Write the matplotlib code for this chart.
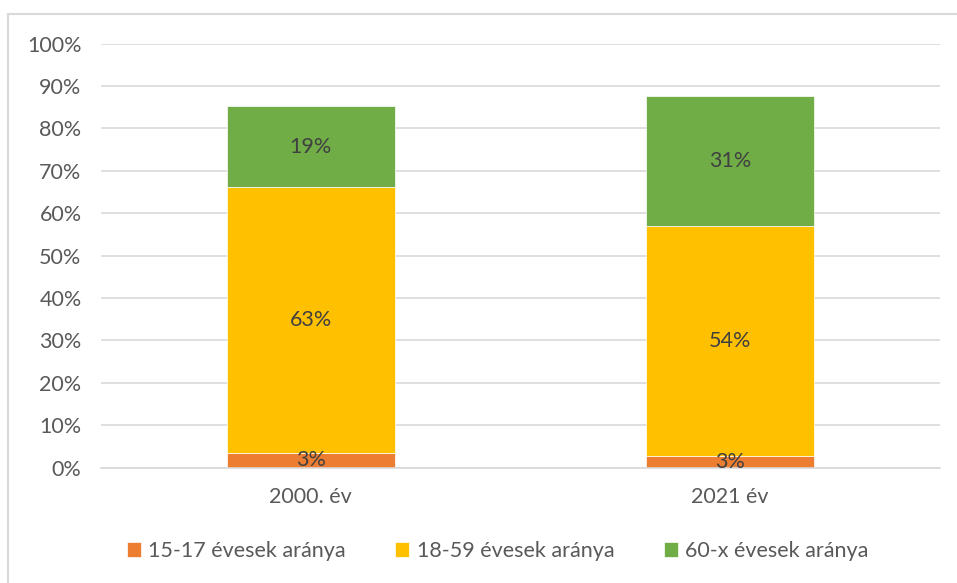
import matplotlib
matplotlib.use('Agg')
import matplotlib.pyplot as plt
from matplotlib.lines import Line2D
import numpy as np

years = ['2000. év', '2021 év']
series = ['15-17 évesek aránya', '18-59 évesek aránya', '60-x évesek aránya']
young = [3.4, 2.7]
adult = [62.8, 54.3]
old = [19.1, 30.7]
labels = [['3%', '3%'], ['63%', '54%'], ['19%', '31%']]
colors = ['#ED7D31', '#FFC000', '#70AD47']

plt.rcParams['font.family'] = ['Lato', 'DejaVu Sans']
fs = 15.5

fig = plt.figure(figsize=(9.57, 5.83), dpi=100)
ax = fig.add_axes([0.1055, 0.198, 0.8765, 0.727])

x = np.arange(len(years))
bottom = np.zeros(len(years))
for vals, col, name, labs in zip([young, adult, old], colors, series, labels):
    vals = np.array(vals)
    ax.bar(x, vals, 0.4, bottom=bottom, color=col, label=name,
           edgecolor='white', linewidth=0.5, zorder=2)
    for xi, b, v, t in zip(x, bottom, vals, labs):
        ax.text(xi, b + v / 2, t, ha='center', va='center',
                fontsize=fs, color='#404040', zorder=3)
    bottom = bottom + vals

ax.set_xlim(-0.5, 1.5)
ax.set_ylim(0, 100)
ax.set_yticks(np.arange(0, 101, 10))
ax.set_yticklabels(['%d%%' % v for v in range(0, 101, 10)])
ax.set_xticks(x)
ax.set_xticklabels(years)
ax.yaxis.grid(True, color='#d9d9d9', linewidth=1.2, zorder=0)
ax.set_axisbelow(True)
for s in ['top', 'right', 'left']:
    ax.spines[s].set_visible(False)
ax.spines['bottom'].set_color('#d9d9d9')
ax.spines['bottom'].set_linewidth(1.2)
ax.tick_params(axis='both', length=0, labelsize=fs, colors='#595959')
ax.tick_params(axis='y', pad=14)
ax.tick_params(axis='x', pad=14)

fig.legend(loc='center', bbox_to_anchor=(0.52, 0.055), ncol=3, frameon=False,
           fontsize=fs, labelcolor='#595959', handlelength=0.65, handleheight=0.65,
           handletextpad=0.35, columnspacing=2.3)

# outer frame (only left and top visible in the reference)
fig.add_artist(Line2D([8 / 957, 8 / 957], [0, 1 - 14 / 583], transform=fig.transFigure,
                      color='#d9d9d9', linewidth=1.5))
fig.add_artist(Line2D([8 / 957, 1], [1 - 14 / 583, 1 - 14 / 583], transform=fig.transFigure,
                      color='#d9d9d9', linewidth=1.5))

plt.savefig('out.png', dpi=100)
